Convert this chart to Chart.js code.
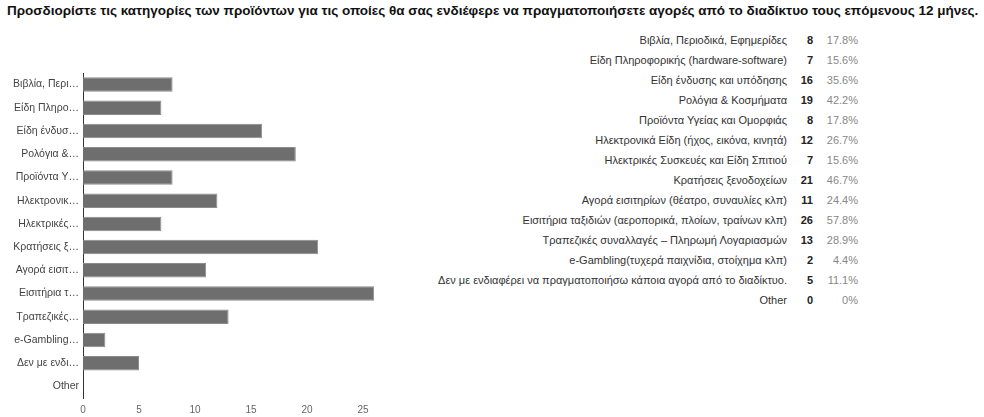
<!DOCTYPE html>
<html>
<head>
<meta charset="utf-8">
<script src="https://cdn.jsdelivr.net/npm/chart.js@4/dist/chart.umd.min.js"></script>
<style>
  html, body { margin: 0; padding: 0; background: #fff; width: 984px; height: 417px; overflow: hidden; }
  body { position: relative; font-family: "Liberation Sans", Arial, sans-serif; }
  #title { position: absolute; left: 7px; top: 3px; font-size: 13.5px; font-weight: bold; color: #111; white-space: nowrap; }
  #wrap { position: absolute; left: 0; top: 60px; width: 430px; height: 357px; }
  .row { position: absolute; height: 20px; line-height: 20px; white-space: nowrap; font-size: 11px; }
</style>
</head>
<body>
<div id="title">Προσδιορίστε τις κατηγορίες των προϊόντων για τις οποίες θα σας ενδιέφερε να πραγματοποιήσετε αγορές από το διαδίκτυο τους επόμενους 12 μήνες.</div>
<div id="wrap"><canvas id="c"></canvas></div>
<div id="tbl"></div>
<script>
const categories = [
  "Βιβλία, Περιοδικά, Εφημερίδες",
  "Είδη Πληροφορικής (hardware-software)",
  "Είδη ένδυσης και υπόδησης",
  "Ρολόγια & Κοσμήματα",
  "Προϊόντα Υγείας και Ομορφιάς",
  "Ηλεκτρονικά Είδη (ήχος, εικόνα, κινητά)",
  "Ηλεκτρικές Συσκευές και Είδη Σπιτιού",
  "Κρατήσεις ξενοδοχείων",
  "Αγορά εισιτηρίων (θέατρο, συναυλίες κλπ)",
  "Εισιτήρια ταξιδιών (αεροπορικά, πλοίων, τραίνων κλπ)",
  "Τραπεζικές συναλλαγές – Πληρωμή Λογαριασμών",
  "e-Gambling(τυχερά παιχνίδια, στοίχημα κλπ)",
  "Δεν με ενδιαφέρει να πραγματοποιήσω κάποια αγορά από το διαδίκτυο.",
  "Other"
];
const shortLabels = [
  "Βιβλία, Περι…", "Είδη Πληρο…", "Είδη ένδυσ…", "Ρολόγια &…", "Προϊόντα Υ…",
  "Ηλεκτρονικ…", "Ηλεκτρικές…", "Κρατήσεις ξ…", "Αγορά εισιτ…", "Εισιτήρια τ…",
  "Τραπεζικές…", "e-Gambling…", "Δεν με ενδι…", "Other"
];
const counts = [8, 7, 16, 19, 8, 12, 7, 21, 11, 26, 13, 2, 5, 0];
const percents = ["17.8%", "15.6%", "35.6%", "42.2%", "17.8%", "26.7%", "15.6%", "46.7%", "24.4%", "57.8%", "28.9%", "4.4%", "11.1%", "0%"];
const xTicks = [0, 5, 10, 15, 20, 25];

// fit title width to the reference span
const t = document.getElementById('title');
const w = t.getBoundingClientRect().width;
t.style.fontSize = (13.5 * 972 / w) + 'px';

// Right-hand table
const tbl = document.getElementById('tbl');
function cell(text, right, top, css) {
  const d = document.createElement('div');
  d.className = 'row';
  d.style.cssText = 'right:' + (984 - right) + 'px;top:' + top + 'px;' + css;
  d.textContent = text;
  tbl.appendChild(d);
}
categories.forEach((c, i) => {
  const top = 30 + i * 20;
  cell(c, 787, top, 'color:#333;');
  cell(String(counts[i]), 813, top, 'font-weight:bold;color:#222;');
  cell(percents[i], 858, top, 'color:#888;');
});

new Chart(document.getElementById('c'), {
  type: 'bar',
  data: {
    labels: shortLabels,
    datasets: [{
      data: counts,
      backgroundColor: '#6e6e6e',
      borderColor: '#8c8c8c',
      borderWidth: 1,
      barPercentage: 0.78,
      categoryPercentage: 0.8
    }]
  },
  options: {
    indexAxis: 'y',
    responsive: true,
    maintainAspectRatio: false,
    animation: false,
    layout: { padding: { top: 13, right: 11, left: 0, bottom: 0 } },
    plugins: { legend: { display: false }, tooltip: { enabled: false } },
    scales: {
      x: {
        min: 0, max: 30,
        afterBuildTicks: s => { s.ticks = xTicks.map(v => ({ value: v })); },
        afterFit: s => { s.height = 19; },
        grid: { display: false, drawTicks: false },
        border: { display: false },
        ticks: { color: '#666', font: { family: 'Liberation Sans', size: 10 }, padding: 6 }
      },
      y: {
        afterFit: s => { s.width = 83; },
        grid: { display: false, drawTicks: false },
        border: { display: true, color: '#333', width: 1 },
        ticks: { color: '#444', font: { family: 'Liberation Sans', size: 10.5 }, padding: 4, autoSkip: false }
      }
    }
  }
});
</script>
</body>
</html>
